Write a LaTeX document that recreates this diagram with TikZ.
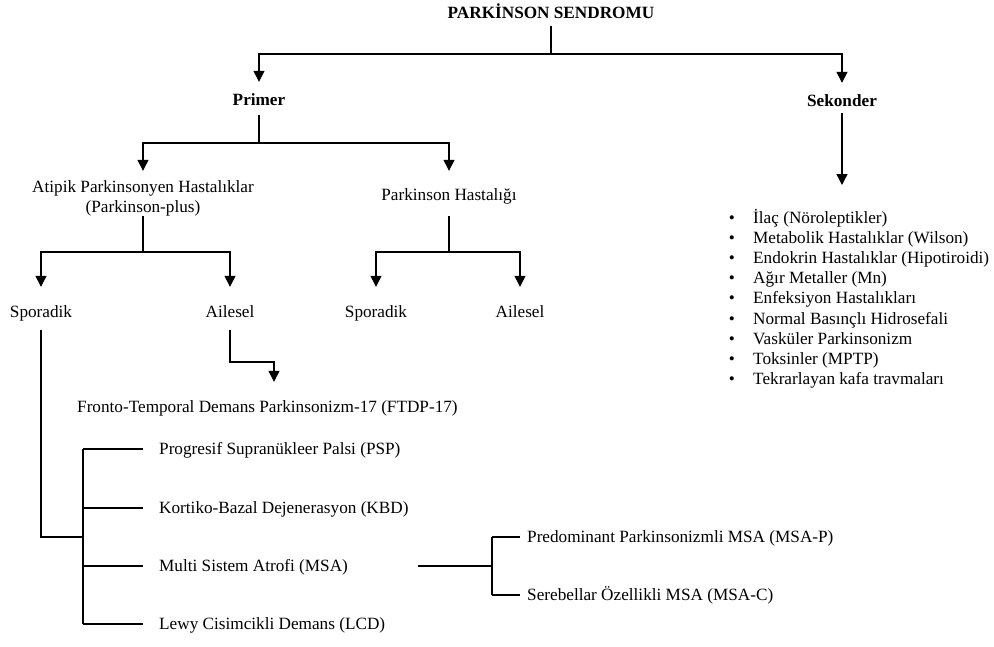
\documentclass[tikz,border=0pt]{standalone}
\usepackage{fontspec}
\setmainfont{Liberation Serif}
\usetikzlibrary{arrows.meta}
\begin{document}
\begin{tikzpicture}[x=1pt,y=-1pt,
  ln/.style={line width=1.3pt},
  arr/.style={ln,-{Triangle[width=11pt,length=11pt]}},
  txt/.style={inner sep=0pt,text height=13pt,text depth=2pt,
    font=\fontsize{17.2pt}{20.1pt}\selectfont},
  hd/.style={txt,font=\fontsize{17.2pt}{20.1pt}\selectfont\bfseries},
]
\useasboundingbox (0,0) rectangle (994,646);

% headings
\node[hd] (title)    at (551,13)  {PARKİNSON SENDROMU};
\node[hd] (primer)   at (259,100) {Primer};
\node[hd] (sekonder) at (842,101) {Sekonder};

% primary branch
\node[txt] (atipik) at (143,187) {Atipik Parkinsonyen Hastalıklar};
\node[txt] (plus)   at (143,207) {(Parkinson-plus)};
\node[txt] (ph)     at (449,195) {Parkinson Hastalığı};
\node[txt] (spor1)  at (41,312)  {Sporadik};
\node[txt] (ail1)   at (230,312) {Ailesel};
\node[txt] (spor2)  at (376,312) {Sporadik};
\node[txt] (ail2)   at (520,312) {Ailesel};
\node[txt,anchor=west] (ftdp) at (77,407) {Fronto-Temporal Demans Parkinsonizm-17 (FTDP-17)};

% sporadic atypical forms
\node[txt,anchor=west] (psp) at (159,449) {Progresif Supranükleer Palsi (PSP)};
\node[txt,anchor=west] (kbd) at (159,508) {Kortiko-Bazal Dejenerasyon (KBD)};
\node[txt,anchor=west] (msa) at (159,566) {Multi Sistem Atrofi (MSA)};
\node[txt,anchor=west] (lcd) at (159,624) {Lewy Cisimcikli Demans (LCD)};
\node[txt,anchor=west] (msap) at (527,537) {Predominant Parkinsonizmli MSA (MSA-P)};
\node[txt,anchor=west] (msac) at (527,595) {Serebellar Özellikli MSA (MSA-C)};

% secondary causes
\foreach [count=\i] \t in {İlaç (Nöroleptikler),
    Metabolik Hastalıklar (Wilson),
    Endokrin Hastalıklar (Hipotiroidi),
    Ağır Metaller (Mn),
    Enfeksiyon Hastalıkları,
    Normal Basınçlı Hidrosefali,
    Vasküler Parkinsonizm,
    Toksinler (MPTP),
    Tekrarlayan kafa travmaları} {
  \node[txt] (bul-\i) at (732,{218+20.1*(\i-1)}) {\textbullet};
  \node[txt,anchor=west] (item-\i) at (753,{218+20.1*(\i-1)}) {\t};
}

% connectors: top level
\coordinate (j0) at (551,54);
\draw[ln,shorten <=5.5pt] (title.south) -- (j0);
\draw[arr,shorten >=10.5pt] (j0) -| (primer.north);
\draw[arr,shorten >=10.5pt] (j0) -| (sekonder.north);

% connectors: primary
\coordinate (j1) at (259,143);
\draw[ln,shorten <=7.5pt] (primer.south) -- (j1);
\draw[arr,shorten >=8.5pt] (j1) -| (atipik.north);
\draw[arr,shorten >=16.5pt] (j1) -| (ph.north);

\coordinate (j2) at (143,252);
\draw[ln,shorten <=1.5pt] (plus.south) -- (j2);
\draw[arr,shorten >=17.5pt] (j2) -| (spor1.north);
\draw[arr,shorten >=17.5pt] (j2) -| (ail1.north);

\coordinate (j3) at (449,252);
\draw[ln,shorten <=13.5pt] (ph.south) -- (j3);
\draw[arr,shorten >=17.5pt] (j3) -| (spor2.north);
\draw[arr,shorten >=17.5pt] (j3) -| (ail2.north);

% familial form
\coordinate (j4) at (230,362);
\coordinate (j4b) at (274,362);
\draw[arr,shorten <=10pt,shorten >=17.5pt] (ail1.south) -- (j4) -- (j4b) -- (j4b |- ftdp.north);

% sporadic forms bracket
\coordinate (j5) at (41,537);
\coordinate (bx) at (83,537);
\draw[ln,shorten <=10.5pt] (spor1.south) -- (j5) -- (bx);
\draw[ln] (bx |- psp.west) -- (bx |- lcd.west);
\foreach \n in {psp,kbd,msa,lcd}
  \draw[ln] (bx |- \n.west) -- ([xshift=-16pt]\n.west);

% MSA subtypes
\coordinate (msa-out) at (418,566);
\coordinate (j7) at (492,566);
\draw[ln] (msa-out) -- (j7);
\draw[ln] (j7 |- msap.west) -- (j7 |- msac.west);
\foreach \n in {msap,msac}
  \draw[ln] (j7 |- \n.west) -- ([xshift=-7pt]\n.west);

% secondary
\coordinate (sek-tip) at (842,185);
\draw[arr,shorten <=4.5pt] (sekonder.south) -- (sek-tip);
\end{tikzpicture}
\end{document}
